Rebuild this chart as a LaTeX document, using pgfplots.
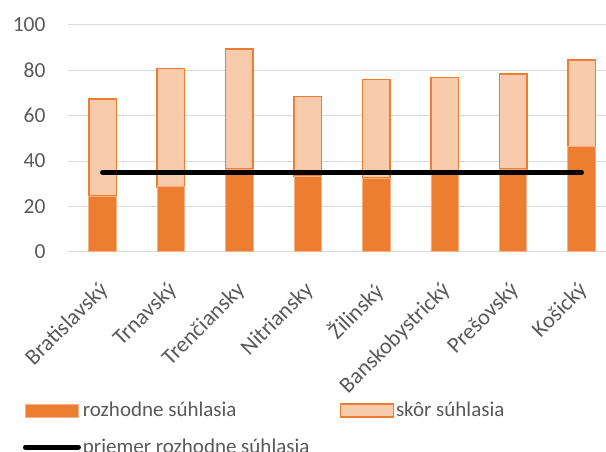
\documentclass[border=0pt]{standalone}
\usepackage{pgfplots}
\pgfplotsset{compat=1.18}
\usepackage{fontspec}
\setmainfont{Carlito}
\definecolor{dark}{HTML}{ED7D31}
\definecolor{light}{HTML}{F8CBAD}
\definecolor{edgepale}{HTML}{F4B183}
\definecolor{gridc}{HTML}{D9D9D9}
\definecolor{txt}{HTML}{595959}
\newcommand{\fs}{\fontsize{21.5}{25}\selectfont}
\newcommand{\fx}{\fontsize{22.5}{26}\selectfont}
\newcommand{\fl}{\fontsize{21}{25}\selectfont}
\pgfplotsset{
  barleg/.style={legend image code/.code={\draw[##1] (0pt,-6.5pt) rectangle (53pt,6.5pt);}},
  lineleg/.style={legend image code/.code={\draw[##1] (0pt,0pt) -- (53pt,0pt);}},
  base/.style={at={(68.3pt,200.3pt)}, anchor=south west,
    scale only axis, width=537.7pt, height=226.7pt,
    xmin=-0.5, xmax=7.358, ymin=0, ymax=100},
}
\begin{document}
\begin{tikzpicture}[x=1pt,y=1pt]
\begin{axis}[
  base,
  ybar stacked, bar width=27.5pt,
  xtick={0,...,7},
  xticklabels={Bratislavský,Trnavský,Trenčiansky,Nitriansky,Žilinský,Banskobystrický,Prešovský,Košický},
  ytick={0,20,...,100},
  ymajorgrids, major grid style={gridc, line width=1pt},
  axis line style={draw=none},
  tick style={draw=none}, major tick length=0pt,
  /pgf/number format/assume math mode=true,
  tick label style={text=txt},
  yticklabel style={font=\fs, anchor=east, inner sep=0pt, xshift=-22.6pt},
  xticklabel style={font=\fx, inner sep=0pt, xshift=-4.5pt, yshift=-28pt, rotate=45, anchor=north east},
  legend columns=2,
  legend cell align=left,
  legend style={at={(-0.0848,-0.655)}, anchor=north west, draw=none, fill=none,
    font=\fl, text=txt, inner sep=0pt, row sep=16.5pt,
    /tikz/every even column/.append style={column sep=28pt}},
]
\addplot[fill=dark, draw=edgepale, line width=0.75pt, barleg]
  coordinates {(0,24.5) (1,28.6) (2,36.5) (3,33.3) (4,32.4) (5,34.6) (6,36.5) (7,46.5)};
\addlegendentry{rozhodne súhlasia}
\addplot[fill=light, draw=dark, line width=1.5pt, barleg]
  coordinates {(0,42.9) (1,52.2) (2,52.9) (3,35.2) (4,43.5) (5,42.2) (6,41.8) (7,38.0)};
\addlegendentry{skôr súhlasia}
\addlegendimage{black, line width=5pt, line cap=round, lineleg}
\addlegendentry{priemer rozhodne súhlasia}
\end{axis}
\begin{axis}[base, hide axis]
\addplot[black, line width=5pt, line cap=round, mark=none]
  coordinates {(0,35) (1,35) (2,35) (3,35) (4,35) (5,35) (6,35) (7,35)};
\end{axis}
\pgfresetboundingbox
\path[use as bounding box] (0,0) rectangle (606,452);
\end{tikzpicture}
\end{document}
